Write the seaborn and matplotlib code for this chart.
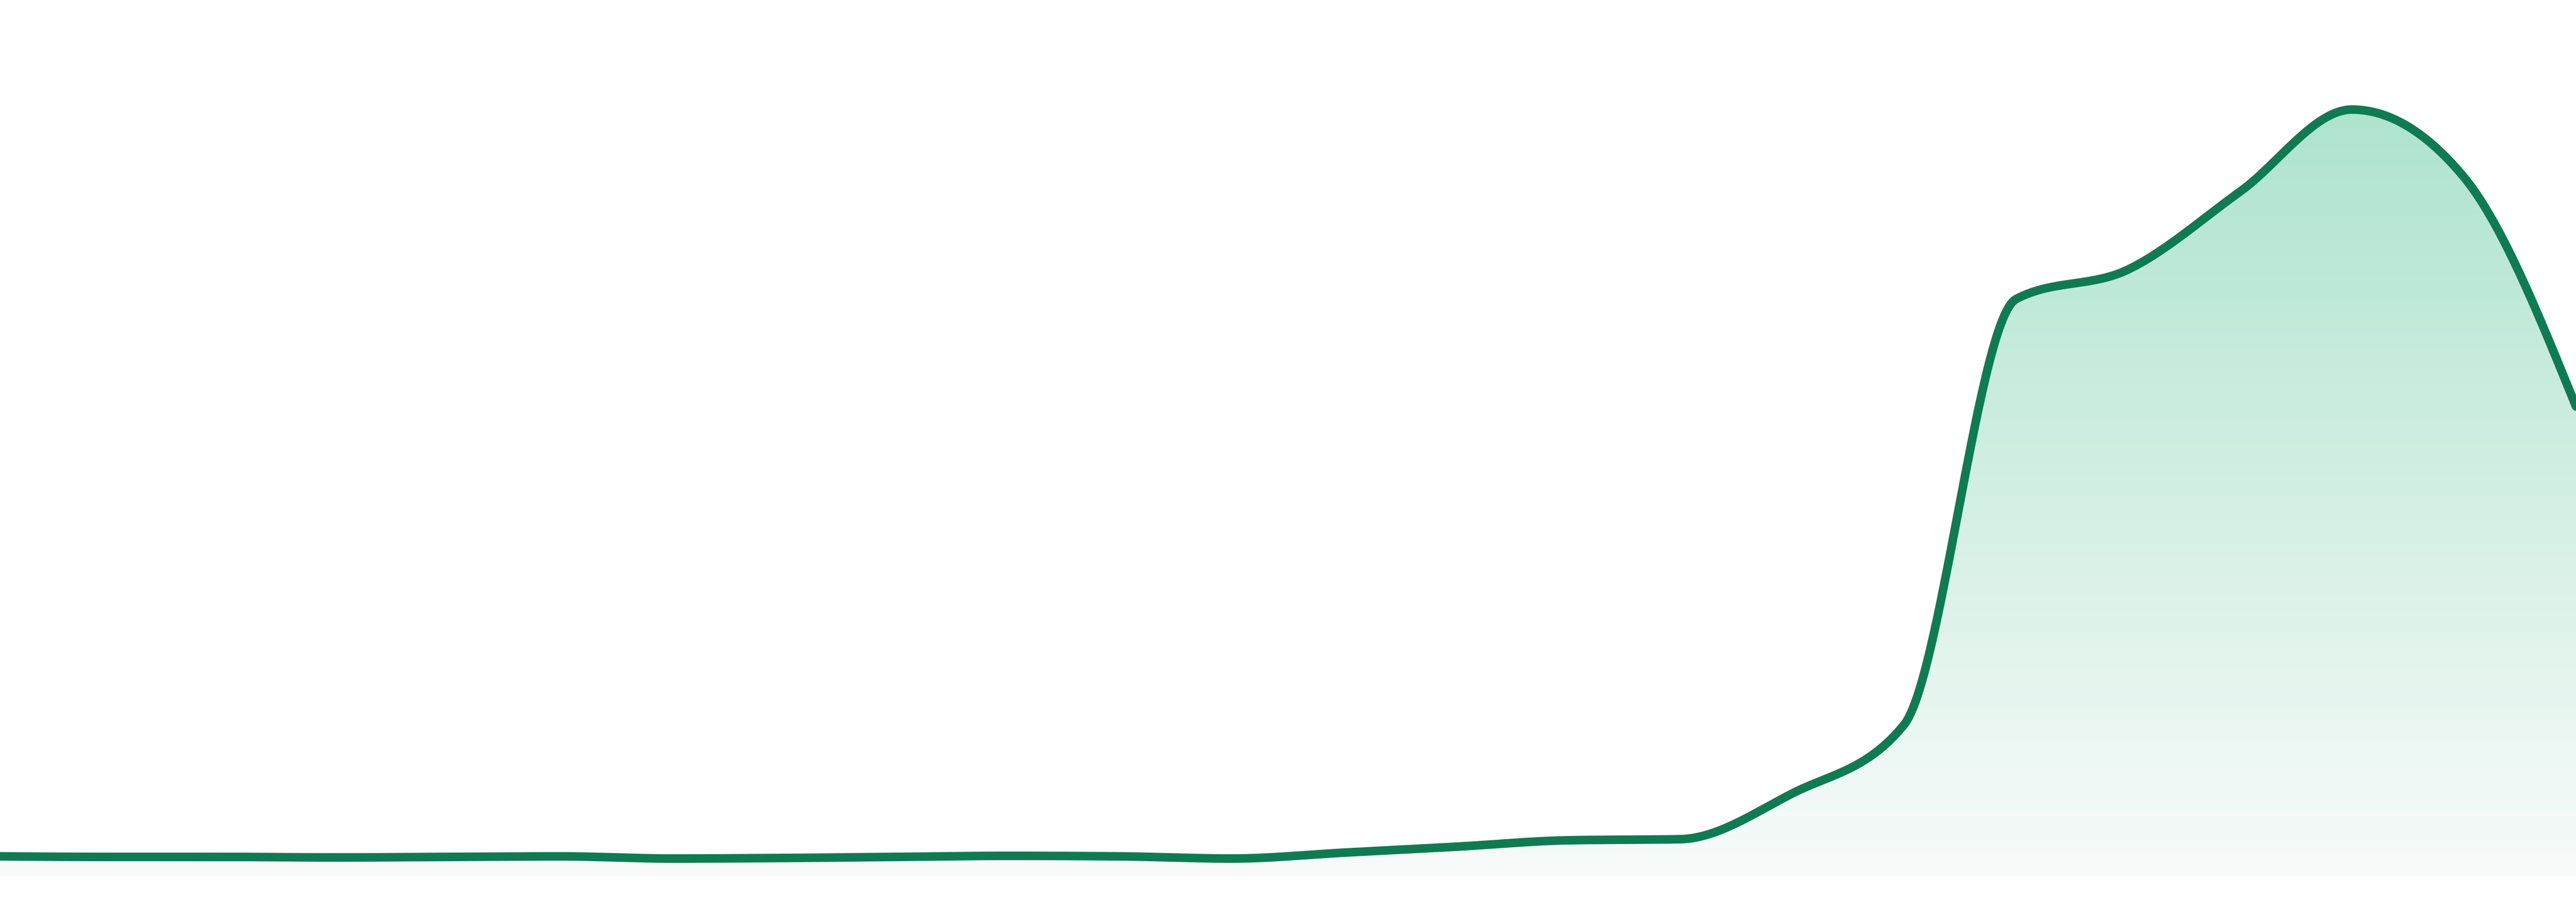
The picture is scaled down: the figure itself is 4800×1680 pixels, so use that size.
import numpy as np
import matplotlib
matplotlib.use("Agg")
import matplotlib.pyplot as plt
import seaborn as sns
import pandas as pd
from matplotlib.colors import LinearSegmentedColormap

# ---- data ----
periods = list(range(24))
values = [2.59, 2.52, 2.52, 2.45, 2.52, 2.59, 2.31, 2.38, 2.52, 2.66, 2.59, 2.31,
          3.08, 3.85, 4.69, 4.83, 10.78, 19.75, 75.28, 79.13, 89.29, 100.0, 91.18, 61.27]

LINE_COLOR = "#107b52"
FILL_TOP = (174 / 255, 228 / 255, 205 / 255)
FILL_BOTTOM = (248 / 255, 251 / 255, 250 / 255)


def monotone_curve(x, y, per_seg=60):
    """Monotone cubic (d3 curveMonotoneX style) rendering of the data."""
    x = np.asarray(x, float)
    y = np.asarray(y, float)
    n = len(x)
    h = np.diff(x)
    s = np.diff(y) / h
    t = np.zeros(n)
    for i in range(1, n - 1):
        s0, s1 = s[i - 1], s[i]
        p = (s0 * h[i] + s1 * h[i - 1]) / (h[i - 1] + h[i])
        t[i] = (np.sign(s0) + np.sign(s1)) * min(abs(s0), abs(s1), 0.5 * abs(p))
    t[0] = (3 * s[0] - t[1]) / 2
    t[-1] = (3 * s[-1] - t[-2]) / 2
    xs, ys = [], []
    for i in range(n - 1):
        u = np.linspace(0, 1, per_seg, endpoint=(i == n - 2))
        h00 = 2 * u**3 - 3 * u**2 + 1
        h10 = u**3 - 2 * u**2 + u
        h01 = -2 * u**3 + 3 * u**2
        h11 = u**3 - u**2
        xs.append(x[i] + u * h[i])
        ys.append(h00 * y[i] + h10 * h[i] * t[i] + h01 * y[i + 1] + h11 * h[i] * t[i + 1])
    return np.concatenate(xs), np.concatenate(ys)


sns.set_theme(style="white")

fig = plt.figure(figsize=(16, 5.6), dpi=300)
ax = fig.add_axes([0, 0, 1, 1])

xd, yd = monotone_curve(periods, values)
curve = pd.DataFrame({"period": xd, "value": yd})

# gradient area fill
poly = ax.fill_between(curve["period"], 0, curve["value"], color="none", lw=0)
cmap = LinearSegmentedColormap.from_list("grad", [FILL_BOTTOM, FILL_TOP])
grad = np.linspace(0, 1, 256).reshape(-1, 1)
img = ax.imshow(grad, extent=[periods[0], periods[-1], 0, max(values)],
                origin="lower", aspect="auto", cmap=cmap, zorder=1,
                interpolation="bilinear")
img.set_clip_path(poly.get_paths()[0], transform=ax.transData)

# line
sns.lineplot(data=curve, x="period", y="value", color=LINE_COLOR, linewidth=3.84,
             sort=False, estimator=None, ax=ax, zorder=3)
for ln in ax.lines:
    ln.set_solid_capstyle("round")
    ln.set_solid_joinstyle("round")

ax.set_xlim(periods[0], periods[-1])
ax.set_ylim(-3.36, 114.29)
ax.axis("off")
if ax.get_legend() is not None:
    ax.get_legend().remove()

fig.savefig("out.png", dpi=300, facecolor="white")
